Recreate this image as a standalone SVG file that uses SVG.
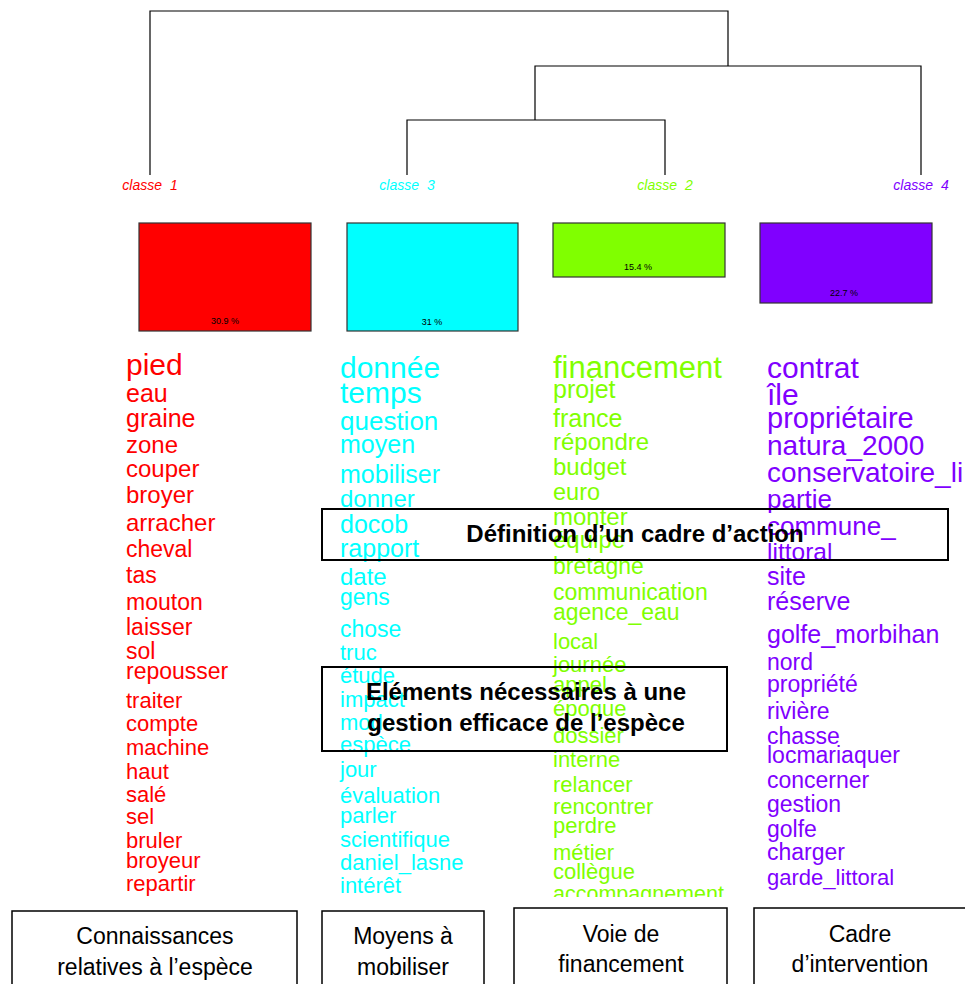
<svg xmlns="http://www.w3.org/2000/svg" width="965" height="984" viewBox="0 0 965 984">
<style>
text{font-family:"Liberation Sans",Arial,sans-serif}
.den{stroke:#000;stroke-width:1.2;fill:none}
.cl{font-size:14px;font-style:italic;text-anchor:middle;word-spacing:4px}
.bar{stroke:#333;stroke-width:1.2}
.pct{font-size:9px;text-anchor:middle;fill:#000}
.r{fill:#FF0000}.c{fill:#00FFFF}.g{fill:#80FF00}.p{fill:#8000FF}
.box{fill:none;stroke:#000;stroke-width:2}
.bt{font-size:24px;font-weight:bold;fill:#000;text-anchor:middle}
.lb{fill:#fff;stroke:#000;stroke-width:1.5}
.lt{font-size:23px;fill:#000;text-anchor:middle}
</style>
<defs>
<clipPath id="wc"><rect x="0" y="340" width="965" height="557"/></clipPath>
</defs>
<rect width="965" height="984" fill="#fff"/>
<g id="connectors">
<path class="den" d="M150,175V11H728V66"/>
<path class="den" d="M535,120V66H921V175"/>
<path class="den" d="M407,175V120H665V175"/>
</g>
<g id="classe1">
<text class="cl r" x="150" y="190">classe 1</text>
<rect class="bar" x="139" y="223" width="172" height="108" fill="#FF0000"/>
<text class="pct" x="225" y="324">30.9 %</text>
</g>
<g id="classe3">
<text class="cl c" x="407" y="190">classe 3</text>
<rect class="bar" x="347" y="223" width="171" height="108" fill="#00FFFF"/>
<text class="pct" x="432" y="325">31 %</text>
</g>
<g id="classe2">
<text class="cl g" x="665" y="190">classe 2</text>
<rect class="bar" x="553" y="223" width="172" height="54" fill="#80FF00"/>
<text class="pct" x="638" y="270">15.4 %</text>
</g>
<g id="classe4">
<text class="cl p" x="921" y="190">classe 4</text>
<rect class="bar" x="760" y="223" width="172" height="80" fill="#8000FF"/>
<text class="pct" x="844" y="296">22.7 %</text>
</g>
<g id="words" clip-path="url(#wc)">
<g id="words1" class="r">
<text x="126" y="375" font-size="30">pied</text>
<text x="126" y="402" font-size="25">eau</text>
<text x="126" y="427" font-size="25">graine</text>
<text x="126" y="453" font-size="24">zone</text>
<text x="126" y="477" font-size="24">couper</text>
<text x="126" y="503" font-size="24">broyer</text>
<text x="126" y="531" font-size="24">arracher</text>
<text x="126" y="557" font-size="23">cheval</text>
<text x="126" y="583" font-size="23">tas</text>
<text x="126" y="610" font-size="23">mouton</text>
<text x="126" y="635" font-size="23">laisser</text>
<text x="126" y="659" font-size="23">sol</text>
<text x="126" y="679" font-size="23">repousser</text>
<text x="126" y="708" font-size="22">traiter</text>
<text x="126" y="731" font-size="22">compte</text>
<text x="126" y="755" font-size="22">machine</text>
<text x="126" y="779" font-size="22">haut</text>
<text x="126" y="802" font-size="22">salé</text>
<text x="126" y="824" font-size="22">sel</text>
<text x="126" y="848" font-size="22">bruler</text>
<text x="126" y="868" font-size="22">broyeur</text>
<text x="126" y="891" font-size="22">repartir</text>
</g>
<g id="words3" class="c">
<text x="340" y="378" font-size="30">donnée</text>
<text x="340" y="403" font-size="30">temps</text>
<text x="340" y="430" font-size="26">question</text>
<text x="340" y="453" font-size="25">moyen</text>
<text x="340" y="483" font-size="25">mobiliser</text>
<text x="340" y="507" font-size="24">donner</text>
<text x="340" y="533" font-size="25">docob</text>
<text x="340" y="557" font-size="25">rapport</text>
<text x="340" y="585" font-size="24">date</text>
<text x="340" y="605" font-size="23">gens</text>
<text x="340" y="637" font-size="23">chose</text>
<text x="340" y="660" font-size="22">truc</text>
<text x="340" y="683" font-size="22">étude</text>
<text x="340" y="707" font-size="22">impact</text>
<text x="340" y="730" font-size="22">mode</text>
<text x="340" y="752" font-size="22">espèce</text>
<text x="340" y="777" font-size="22">jour</text>
<text x="340" y="803" font-size="22">évaluation</text>
<text x="340" y="823" font-size="22">parler</text>
<text x="340" y="847" font-size="22">scientifique</text>
<text x="340" y="870" font-size="22">daniel_lasne</text>
<text x="340" y="893" font-size="22">intérêt</text>
</g>
<g id="words2" class="g">
<text x="553" y="378" font-size="31">financement</text>
<text x="553" y="398" font-size="25">projet</text>
<text x="553" y="427" font-size="25">france</text>
<text x="553" y="450" font-size="24">répondre</text>
<text x="553" y="475" font-size="24">budget</text>
<text x="553" y="500" font-size="23.5">euro</text>
<text x="553" y="525" font-size="24">monter</text>
<text x="553" y="548" font-size="24">équipe</text>
<text x="553" y="574" font-size="23">bretagne</text>
<text x="553" y="600" font-size="23">communication</text>
<text x="553" y="620" font-size="23">agence_eau</text>
<text x="553" y="649" font-size="22">local</text>
<text x="553" y="672" font-size="22">journée</text>
<text x="553" y="692" font-size="22">appel</text>
<text x="553" y="716" font-size="22">époque</text>
<text x="553" y="743" font-size="22">dossier</text>
<text x="553" y="767" font-size="22">interne</text>
<text x="553" y="792" font-size="22">relancer</text>
<text x="553" y="814" font-size="22">rencontrer</text>
<text x="553" y="833" font-size="22">perdre</text>
<text x="553" y="860" font-size="22">métier</text>
<text x="553" y="879" font-size="22">collègue</text>
<text x="553" y="901" font-size="21.5">accompagnement</text>
</g>
<g id="words4" class="p">
<text x="767" y="378" font-size="30">contrat</text>
<text x="767" y="405" font-size="30">île</text>
<text x="767" y="428" font-size="29">propriétaire</text>
<text x="767" y="455" font-size="28">natura_2000</text>
<text x="767" y="482" font-size="28">conservatoire_li</text>
<text x="767" y="508" font-size="26">partie</text>
<text x="767" y="535" font-size="26">commune_</text>
<text x="767" y="560" font-size="24.5">littoral</text>
<text x="767" y="585" font-size="25">site</text>
<text x="767" y="610" font-size="25">réserve</text>
<text x="767" y="643" font-size="25">golfe_morbihan</text>
<text x="767" y="670" font-size="23">nord</text>
<text x="767" y="692" font-size="23">propriété</text>
<text x="767" y="719" font-size="23">rivière</text>
<text x="767" y="744" font-size="23">chasse</text>
<text x="767" y="763" font-size="23">locmariaquer</text>
<text x="767" y="788" font-size="23">concerner</text>
<text x="767" y="812" font-size="23">gestion</text>
<text x="767" y="837" font-size="23">golfe</text>
<text x="767" y="860" font-size="23">charger</text>
<text x="767" y="885" font-size="22">garde_littoral</text>
</g>
</g>
<g id="definition">
<rect class="box" x="322" y="509" width="626" height="51"/>
<text class="bt" x="635" y="542">Définition d’un cadre d’action</text>
</g>
<g id="elements">
<rect class="box" x="322" y="667" width="405" height="84"/>
<text class="bt" x="526" y="700">Eléments nécessaires à une</text>
<text class="bt" x="526" y="731">gestion efficace de l’espèce</text>
</g>
<g id="label1">
<rect class="lb" x="12" y="911" width="285" height="80"/>
<text class="lt" x="155" y="944">Connaissances</text>
<text class="lt" x="155" y="975">relatives à l’espèce</text>
</g>
<g id="label2">
<rect class="lb" x="322" y="911" width="162" height="80"/>
<text class="lt" x="403" y="944">Moyens à</text>
<text class="lt" x="403" y="975">mobiliser</text>
</g>
<g id="label3">
<rect class="lb" x="514" y="908" width="213" height="83"/>
<text class="lt" x="621" y="942">Voie de</text>
<text class="lt" x="621" y="972">financement</text>
</g>
<g id="label4">
<rect class="lb" x="754" y="908" width="220" height="83"/>
<text class="lt" x="860" y="942">Cadre</text>
<text class="lt" x="860" y="972">d’intervention</text>
</g>
</svg>
